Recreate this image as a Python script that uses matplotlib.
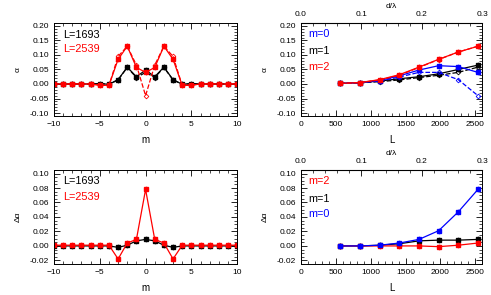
import numpy as np
import matplotlib
matplotlib.use('Agg')
import matplotlib.pyplot as plt
from matplotlib.ticker import MultipleLocator

plt.rcParams['font.family'] = ['Liberation Sans', 'DejaVu Sans']

# data
m = np.arange(-10, 11)
a1693 = [0, 0, 0, 0, 0, 0.001, -0.001, 0.015, 0.058, 0.025, 0.048, 0.025, 0.058, 0.015, -0.001, 0.001, 0, 0, 0, 0, 0]
a1693_d = [0, 0, 0, 0, 0, 0.001, -0.001, 0.014, 0.057, 0.022, 0.040, 0.022, 0.057, 0.014, -0.001, 0.001, 0, 0, 0, 0, 0]
a2539 = [0, 0, 0, 0, 0, -0.004, -0.005, 0.085, 0.130, 0.057, 0.040, 0.057, 0.130, 0.085, -0.005, -0.004, 0, 0, 0, 0, 0]
a2539_d = [0, 0, 0, 0, 0, -0.004, -0.005, 0.095, 0.130, 0.065, -0.040, 0.065, 0.130, 0.095, -0.005, -0.004, 0, 0, 0, 0, 0]
da1693 = [0, 0, 0, 0, 0, 0, 0, -0.002, 0.001, 0.007, 0.009, 0.007, 0.001, -0.002, 0, 0, 0, 0, 0, 0, 0]
da2539 = [0.001, 0.001, 0.001, 0.001, 0.001, 0.001, 0.001, -0.018, 0.004, 0.009, 0.078, 0.009, 0.004, -0.018, 0.001, 0.001, 0.001, 0.001, 0.001, 0.001, 0.001]

L = [565, 847, 1129, 1411, 1693, 1975, 2257, 2539]
am0 = [0.002, 0.005, 0.012, 0.028, 0.048, 0.063, 0.060, 0.040]
am0_d = [0.002, 0.005, 0.010, 0.024, 0.040, 0.040, 0.015, -0.040]
am1 = [0.002, 0.005, 0.010, 0.018, 0.025, 0.035, 0.050, 0.065]
am1_d = [0.002, 0.004, 0.008, 0.014, 0.022, 0.030, 0.040, 0.058]
am2 = [0.002, 0.005, 0.015, 0.032, 0.058, 0.085, 0.110, 0.130]
am2_d = [0.002, 0.005, 0.014, 0.030, 0.057, 0.084, 0.110, 0.130]
dam0 = [0.0, 0.0, 0.001, 0.004, 0.009, 0.021, 0.047, 0.078]
dam1 = [0.0, 0.0, 0.001, 0.003, 0.007, 0.008, 0.008, 0.009]
dam2 = [0.0, 0.0, 0.0, 0.0, 0.0, -0.001, 0.001, 0.004]

dlam = 2600 / 0.3  # L per unit d/lambda

fig = plt.figure(figsize=(4.91, 2.95), dpi=100)
ax1 = fig.add_axes([0.110, 0.607, 0.373, 0.315])
ax2 = fig.add_axes([0.613, 0.607, 0.369, 0.315])
ax3 = fig.add_axes([0.110, 0.105, 0.373, 0.319])
ax4 = fig.add_axes([0.613, 0.105, 0.369, 0.319])


def solid(ax, x, y, c):
    ax.plot(x, y, '-', color=c, lw=0.9, marker='s', ms=2.2)
    ax.plot(x, y, ls='none', color=c, marker=(6, 2, 0), ms=3.8, mew=0.6)


def dashed(ax, x, y, c):
    ax.plot(x, y, '--', color=c, lw=0.9, marker='D', ms=2.4, mfc='none', mew=0.6)


solid(ax1, m, a1693, 'black')
dashed(ax1, m, a1693_d, 'black')
solid(ax1, m, a2539, 'red')
dashed(ax1, m, a2539_d, 'red')

solid(ax2, L, am1, 'black')
dashed(ax2, L, am1_d, 'black')
solid(ax2, L, am0, 'blue')
dashed(ax2, L, am0_d, 'blue')
solid(ax2, L, am2, 'red')
dashed(ax2, L, am2_d, 'red')

solid(ax3, m, da1693, 'black')
solid(ax3, m, da2539, 'red')

solid(ax4, L, dam1, 'black')
solid(ax4, L, dam2, 'red')
solid(ax4, L, dam0, 'blue')

for ax in (ax1, ax3):
    ax.set_xlim(-10, 10)
    ax.xaxis.set_major_locator(MultipleLocator(5))
    ax.xaxis.set_minor_locator(MultipleLocator(1))
    ax.set_xlabel('m', fontsize=7, labelpad=5)
for ax in (ax2, ax4):
    ax.set_xlim(0, 2600)
    ax.xaxis.set_major_locator(MultipleLocator(500))
    ax.xaxis.set_minor_locator(MultipleLocator(100))
    ax.set_xlabel('L', fontsize=7, labelpad=5)
    sec = ax.secondary_xaxis('top', functions=(lambda x: x / dlam, lambda x: x * dlam))
    sec.xaxis.set_major_locator(MultipleLocator(0.1))
    sec.xaxis.set_minor_locator(MultipleLocator(0.02))
    sec.xaxis.set_major_formatter(matplotlib.ticker.FormatStrFormatter('%.1f'))
    sec.tick_params(which='both', direction='in', labelsize=6)
    sec.tick_params(which='major', length=4, width=0.6)
    sec.tick_params(which='minor', length=2, width=0.5)
    sec.set_xlabel('d/\u03bb', fontsize=6, labelpad=2)

for ax in (ax1, ax2):
    ax.set_ylim(-0.11, 0.21)
    ax.yaxis.set_major_locator(MultipleLocator(0.05))
    ax.yaxis.set_minor_locator(MultipleLocator(0.01))
    ax.set_ylabel('\u03b1', fontsize=6, labelpad=6)
for ax in (ax3, ax4):
    ax.set_ylim(-0.025, 0.105)
    ax.yaxis.set_major_locator(MultipleLocator(0.02))
    ax.yaxis.set_minor_locator(MultipleLocator(0.005))
    ax.set_ylabel('\u0394\u03b1', fontsize=6, labelpad=6)

for ax in (ax1, ax2, ax3, ax4):
    ax.yaxis.set_major_formatter(matplotlib.ticker.FormatStrFormatter('%.2f'))
    top = ax in (ax1, ax3)
    ax.tick_params(which='both', direction='in', labelsize=6, right=True, top=top)
    ax.tick_params(which='major', length=4, width=0.6)
    ax.tick_params(which='minor', length=2, width=0.5)
    for s in ax.spines.values():
        s.set_linewidth(0.7)

fs = 7.8
ax1.text(0.05, 0.87, 'L=1693', color='black', fontsize=fs, transform=ax1.transAxes, va='center')
ax1.text(0.05, 0.72, 'L=2539', color='red', fontsize=fs, transform=ax1.transAxes, va='center')
ax3.text(0.05, 0.88, 'L=1693', color='black', fontsize=fs, transform=ax3.transAxes, va='center')
ax3.text(0.05, 0.71, 'L=2539', color='red', fontsize=fs, transform=ax3.transAxes, va='center')

ax2.text(0.04, 0.88, 'm=0', color='blue', fontsize=fs, transform=ax2.transAxes, va='center')
ax2.text(0.04, 0.70, 'm=1', color='black', fontsize=fs, transform=ax2.transAxes, va='center')
ax2.text(0.04, 0.53, 'm=2', color='red', fontsize=fs, transform=ax2.transAxes, va='center')
ax4.text(0.04, 0.88, 'm=2', color='red', fontsize=fs, transform=ax4.transAxes, va='center')
ax4.text(0.04, 0.69, 'm=1', color='black', fontsize=fs, transform=ax4.transAxes, va='center')
ax4.text(0.04, 0.53, 'm=0', color='blue', fontsize=fs, transform=ax4.transAxes, va='center')

fig.savefig('out.png', dpi=100)
